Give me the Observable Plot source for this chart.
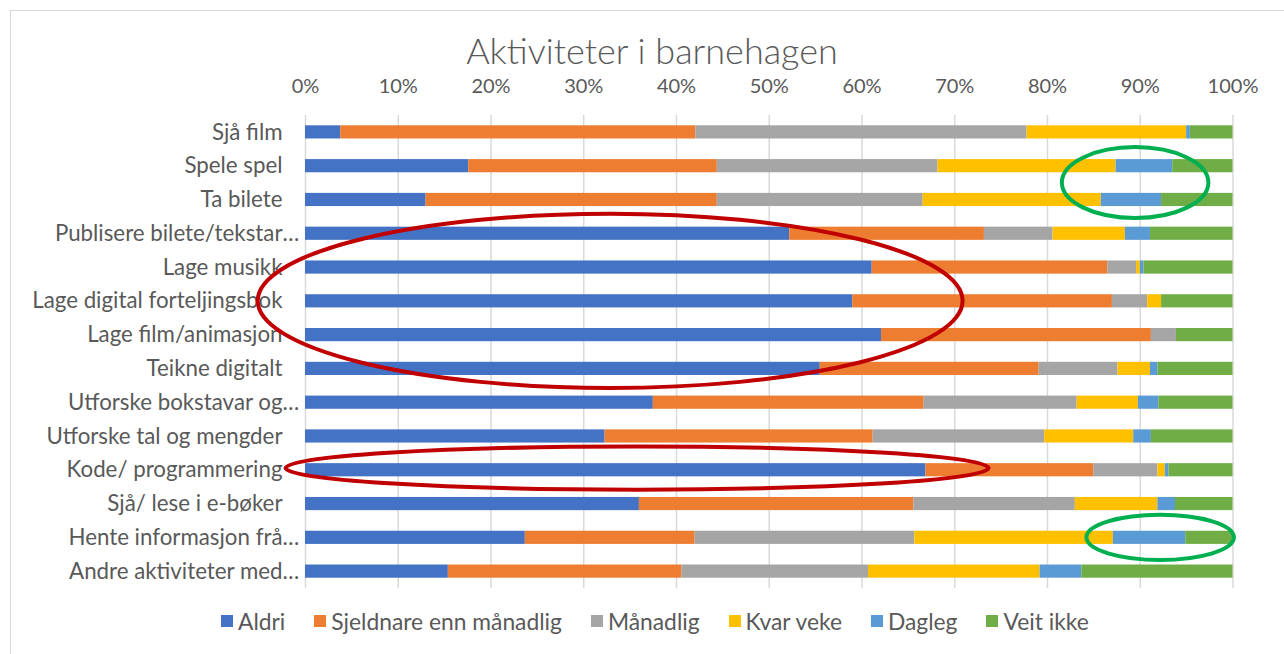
<!DOCTYPE html>
<html><head><meta charset="utf-8">
<script src="https://cdn.jsdelivr.net/npm/d3@7"></script>
<script src="https://cdn.jsdelivr.net/npm/@observablehq/plot@0.6"></script>
<style>
body{margin:0;background:#fff;font-family:Lato,sans-serif;overflow:hidden;}
#frame{position:absolute;left:10px;top:10px;width:1300px;height:700px;border:1px solid #d9d9d9;box-sizing:border-box;}
#title{position:absolute;left:0;top:35px;width:1304px;text-align:center;font-size:36px;font-weight:300;color:#595959;line-height:30px;height:30px;}
#chart{position:absolute;left:0;top:70px;}
#legend{position:absolute;left:221px;top:608px;display:flex;gap:29px;font-size:22.8px;color:#595959;line-height:26px;}
.item{display:flex;align-items:center;}
.sw{width:12px;height:12px;margin-right:5px;}
</style></head><body>
<div id="frame"></div>
<div id="title">Aktiviteter i barnehagen</div>
<div id="chart"></div>
<div id="legend"></div>
<script>
const categories = [
  "Sjå film", "Spele spel", "Ta bilete", "Publisere bilete/tekstar…", "Lage musikk",
  "Lage digital forteljingsbok", "Lage film/animasjon", "Teikne digitalt",
  "Utforske bokstavar og…", "Utforske tal og mengder", "Kode/ programmering",
  "Sjå/ lese i e-bøker", "Hente informasjon frå…", "Andre aktiviteter med…"
];
const series = ["Aldri", "Sjeldnare enn månadlig", "Månadlig", "Kvar veke", "Dagleg", "Veit ikke"];
const aldri      = [3.8, 17.6, 13.0, 52.2, 61.1, 59.0, 62.1, 55.5, 37.5, 32.3, 66.9, 36.0, 23.7, 15.4];
const sjeldnare  = [38.3, 26.8, 31.4, 21.0, 25.4, 28.0, 29.1, 23.6, 29.2, 28.9, 18.1, 29.6, 18.3, 25.2];
const maanadlig  = [35.7, 23.8, 22.2, 7.4, 3.1, 3.8, 2.7, 8.5, 16.5, 18.5, 6.9, 17.4, 23.7, 20.1];
const kvarVeke   = [17.2, 19.2, 19.2, 7.8, 0.4, 1.5, 0.0, 3.5, 6.6, 9.6, 0.8, 8.9, 21.4, 18.5];
const dagleg     = [0.4, 6.1, 6.5, 2.7, 0.4, 0.0, 0.0, 0.8, 2.2, 1.9, 0.4, 1.9, 7.8, 4.5];
const veitIkke   = [4.6, 6.5, 7.7, 8.9, 9.6, 7.7, 6.1, 8.1, 8.0, 8.8, 6.9, 6.2, 5.1, 16.3];
const xTicks = [0, 10, 20, 30, 40, 50, 60, 70, 80, 90, 100];

const colors = ["#4472C4", "#ED7D31", "#A5A5A5", "#FFC000", "#5B9BD5", "#70AD47"];
const valueLists = [aldri, sjeldnare, maanadlig, kvarVeke, dagleg, veitIkke];

// hand-drawn highlight ellipses (annotation, in data units: % along x, rows along y)
const annotations = [
  {row: "Lage digital forteljingsbok", dy: 0, x: 32.9, rx: 38.0, ry: 2.58, color: "#C00000"},
  {row: "Kode/ programmering", dy: -0.05, x: 35.8, rx: 37.9, ry: 0.64, color: "#C00000"},
  {row: "Spele spel", dy: 0.5, x: 89.5, rx: 7.9, ry: 1.05, color: "#00B050"},
  {row: "Hente informasjon frå…", dy: 0, x: 92.2, rx: 7.95, ry: 0.67, color: "#00B050"}
];

const rows = [];
categories.forEach((c, i) => series.forEach((s, j) => rows.push({category: c, series: s, value: valueLists[j][i]})));

const plot = Plot.plot({
  width: 1284, height: 522,
  marginTop: 45, marginBottom: 4, marginLeft: 305, marginRight: 51.5,
  style: {fontFamily: "Lato, sans-serif", fontSize: "20px", color: "#595959", background: "transparent", overflow: "visible"},
  x: {domain: [0, 100], axis: "top", ticks: xTicks, tickFormat: d => d + "%", tickSize: 0, tickPadding: 23, label: null},
  y: {domain: categories, paddingInner: 0.61, paddingOuter: 0.305, round: false, axis: null},
  color: {domain: series, range: colors},
  marks: [
    Plot.ruleX(xTicks, {stroke: "#d9d9d9", strokeWidth: 1.5}),
    Plot.barX(rows, {x: "value", y: "category", fill: "series"}),
    Plot.text(categories, {y: d => d, text: d => d.replace(/…$/, ""), frameAnchor: "left", textAnchor: "end", dx: -23, fontSize: 22.3, fill: "#595959"}),
    Plot.text(categories.filter(d => d.endsWith("…")), {y: d => d, text: () => "…", frameAnchor: "left", textAnchor: "start", dx: -23, fontSize: 22.3, fill: "#595959"})
  ]
});

const xs = plot.scale("x"), ys = plot.scale("y");
const step = ys.apply(categories[1]) - ys.apply(categories[0]);
const svg = d3.select(plot);
annotations.forEach(a => {
  const cx = xs.apply(a.x);
  const cy = ys.apply(a.row) + ys.bandwidth / 2 + a.dy * step;
  svg.append("ellipse")
    .attr("cx", cx).attr("cy", cy)
    .attr("rx", xs.apply(a.x + a.rx) - cx).attr("ry", a.ry * step)
    .attr("fill", "none").attr("stroke", a.color).attr("stroke-width", 4);
});
document.getElementById("chart").append(plot);

const legend = d3.select("#legend");
series.forEach((s, i) => {
  const it = legend.append("div").attr("class", "item");
  it.append("div").attr("class", "sw").style("background", colors[i]);
  it.append("span").text(s);
});
</script>
</body></html>
